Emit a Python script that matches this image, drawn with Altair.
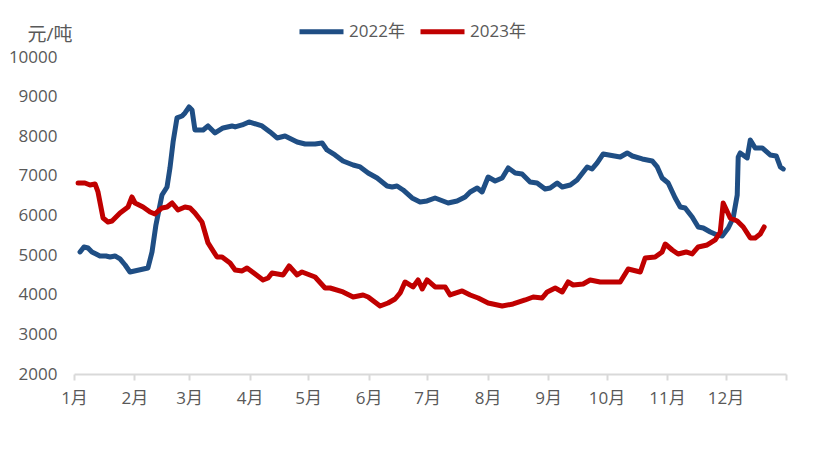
import altair as alt
import pandas as pd

# ---- data (day of year, price in 元/吨) ----
days_2022 = [3.1, 5.1, 7.2, 9.2, 11.3, 13.3, 16.4, 18.5, 21, 23.6, 26.2, 28.7, 37.9, 40, 42, 45.1, 47.7,
             49.2, 50.8, 52.8, 55.4, 56.9, 59, 60.5, 62, 66.2, 68.7, 72.3, 76.4, 81, 82.6, 86.2, 89.7,
             96.4, 100.5, 104.1, 108.2, 114.4, 118.5, 123.6, 127.2, 129.7, 133.8, 137.9, 143.1, 146.7,
             150.8, 155.4, 160.5, 163.1, 165.6, 168.7, 173.3, 177.4, 181, 185.1, 191.8, 196.4, 200.5,
             203.1, 206.7, 209.2, 212.3, 215.9, 219.5, 222.6, 226.2, 229.7, 233.8, 237.4, 241.5, 244.1,
             247.7, 250.3, 254.4, 257.9, 263.1, 265.6, 268.2, 271.3, 280, 283.6, 286.2, 291.3, 296.4,
             299, 301.5, 304.6, 308.2, 310.8, 313.3, 316.9, 320, 322.6, 326.2, 329.7, 332.3, 335.4,
             337.9, 340, 340.5, 341.5, 345.1, 346.7, 349.2, 352.8, 356.9, 360, 362.1, 363.6]
vals_2022 = [5080, 5206, 5180, 5080, 5029, 4979, 4979, 4953, 4979, 4903, 4751, 4575, 4675, 5080, 5761,
             6518, 6720, 7200, 7856, 8462, 8512, 8588, 8739, 8664, 8159, 8159, 8260, 8083, 8209, 8260,
             8235, 8285, 8361, 8260, 8108, 7957, 8007, 7856, 7805, 7805, 7830, 7654, 7528, 7376, 7275,
             7225, 7073, 6947, 6745, 6720, 6745, 6644, 6442, 6341, 6367, 6442, 6316, 6367, 6468, 6594,
             6695, 6594, 6972, 6871, 6947, 7200, 7073, 7048, 6846, 6821, 6669, 6695, 6821, 6720, 6770,
             6897, 7225, 7174, 7326, 7553, 7477, 7578, 7502, 7427, 7376, 7225, 6947, 6821, 6442, 6215,
             6190, 5963, 5710, 5685, 5584, 5508, 5483, 5685, 5937, 6518, 7477, 7578, 7452, 7906, 7704,
             7704, 7528, 7502, 7225, 7174]

days_2023 = [2.1, 5.6, 8.2, 10.8, 12.3, 14.9, 17.4, 19.5, 23.6, 27.7, 29.7, 31.3, 35.4, 39, 41.5, 45.1,
             47.7, 50.3, 53.3, 56.9, 59.5, 62, 65.6, 68.7, 73.3, 75.9, 80, 82.6, 86.2, 88.7, 96.9, 99.5,
             101.5, 107.2, 110.3, 114.4, 116.9, 123.6, 128.7, 131.3, 137.9, 143.1, 148.2, 150.8, 156.9,
             161, 164.6, 167.2, 169.7, 173.8, 176.4, 178.5, 181, 185.1, 190.3, 192.8, 199, 203.1, 207.2,
             212.3, 219.5, 225.1, 231.3, 235.4, 240, 242.6, 246.7, 250.3, 253.3, 255.9, 261, 264.6,
             269.7, 280, 284.1, 290.3, 292.8, 297.9, 301.5, 303.1, 306.7, 309.7, 313.8, 316.9, 320,
             324.6, 328.7, 331.3, 332.8, 336.4, 340, 343.1, 346.7, 349.2, 351.8, 353.8]
vals_2023 = [6821, 6821, 6770, 6796, 6594, 5937, 5837, 5862, 6064, 6215, 6468, 6316, 6215, 6089, 6039,
             6190, 6215, 6316, 6139, 6215, 6190, 6064, 5837, 5307, 4953, 4953, 4802, 4625, 4600, 4675,
             4373, 4423, 4549, 4499, 4726, 4499, 4575, 4448, 4170, 4170, 4070, 3944, 3994, 3944, 3716,
             3792, 3893, 4045, 4322, 4196, 4373, 4145, 4373, 4196, 4196, 3994, 4095, 3994, 3918, 3792,
             3716, 3767, 3868, 3944, 3918, 4070, 4170, 4070, 4322, 4246, 4272, 4373, 4322, 4322, 4650,
             4575, 4928, 4953, 5080, 5281, 5130, 5029, 5080, 5029, 5206, 5256, 5382, 5584, 6316, 5937,
             5862, 5710, 5433, 5433, 5534, 5710]

series_names = ["2022年", "2023年"]
series_colors = ["#1F4E84", "#C00000"]
month_starts = [0, 31, 59, 90, 120, 151, 181, 212, 243, 273, 304, 334, 365]
month_labels = ["1月", "2月", "3月", "4月", "5月", "6月", "7月", "8月", "9月", "10月", "11月", "12月", ""]
y_ticks = [2000, 3000, 4000, 5000, 6000, 7000, 8000, 9000, 10000]

df = pd.concat([
    pd.DataFrame({"day": days_2022, "price": vals_2022, "year": series_names[0]}),
    pd.DataFrame({"day": days_2023, "price": vals_2023, "year": series_names[1]}),
], ignore_index=True)

FONT = "Open Sans, Noto Sans CJK SC, sans-serif"
GREY = "#595959"

label_js = "[" + ",".join("'" + s + "'" for s in month_labels) + "]"
starts_js = "[" + ",".join(str(v) for v in month_starts) + "]"

chart = alt.Chart(df).mark_line(strokeWidth=5, strokeJoin="round", strokeCap="round").encode(
    x=alt.X("day:Q", scale=alt.Scale(domain=[0, 365], nice=False, zero=False),
            axis=alt.Axis(values=month_starts, title=None, grid=False,
                          labelExpr=label_js + "[indexof(" + starts_js + ", datum.value)]",
                          domainColor="#D9D9D9", domainWidth=2, tickColor="#D9D9D9", tickWidth=2,
                          tickSize=6, labelPadding=10, labelColor=GREY, labelFontSize=17,
                          labelFont=FONT, labelFlush=False, labelOverlap=False)),
    y=alt.Y("price:Q", scale=alt.Scale(domain=[2000, 10000], nice=False, zero=False),
            axis=alt.Axis(values=y_ticks, format="d", grid=False, domain=False, ticks=False,
                          labelPadding=17, labelColor=GREY, labelFontSize=17, labelFont=FONT,
                          title="元/吨", titleAngle=0, titleAlign="left", titleBaseline="middle",
                          titleX=-47, titleY=-23, titleColor=GREY, titleFontSize=19,
                          titleFont=FONT, titleFontWeight="normal")),
    color=alt.Color("year:N", scale=alt.Scale(domain=series_names, range=series_colors),
                    legend=alt.Legend(title=None, orient="none", direction="horizontal",
                                      legendX=223, legendY=-50, symbolType="stroke",
                                      symbolSize=1936, symbolStrokeWidth=5, labelFontSize=17,
                                      labelFont=FONT, labelColor=GREY, labelOffset=3,
                                      columnPadding=5, padding=0)),
    order="day:Q",
).properties(
    width=712, height=317, autosize="none",
    padding={"left": 74, "top": 57, "right": 33, "bottom": 80},
).configure_view(stroke=None)

chart.save("out.html", embed_options={"renderer": "svg", "actions": False})
